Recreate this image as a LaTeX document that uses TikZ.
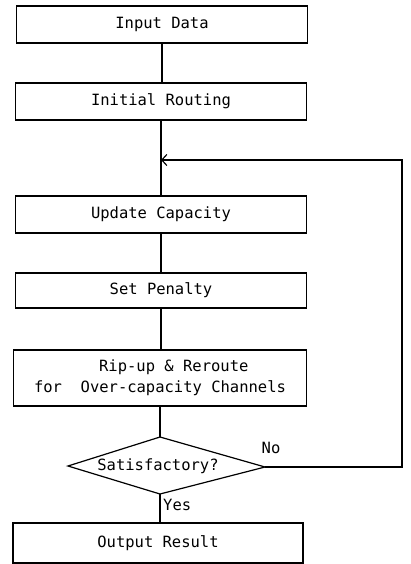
\documentclass[tikz,border=0pt]{standalone}
\usepackage{fontspec}
\newfontfamily\diafont{DejaVu Sans Mono}
\usetikzlibrary{arrows.meta}
\begin{document}
\begin{tikzpicture}[x=1pt,y=-1pt,
  every node/.style={font=\diafont\fontsize{15.5}{21}\selectfont},
  procbox/.style={draw,line width=1.2pt,minimum width=291pt,inner sep=0pt},
  conn/.style={line width=1.2pt},
  lbl/.style={inner sep=0pt}]
\useasboundingbox (0,0) rectangle (410,564);
\node[procbox,minimum height=37pt] (input) at (162,24.5) {Input Data};
\node[procbox,minimum height=37pt] (init) at (161,101.5) {Initial Routing};
\node[procbox,minimum height=37pt] (update) at (161,214.5) {Update Capacity};
\node[procbox,minimum height=35pt] (pen) at (161,290.5) {Set Penalty};
\node[procbox,minimum height=56pt,minimum width=293pt,align=left] (rip) at (160,378) {\hspace*{4.2em}Rip-up \& Reroute\\for\ \ Over-capacity Channels};
% decision diamond
\coordinate (dtop) at (160,437);
\coordinate (dright) at (265,467);
\coordinate (dbot) at (160,494);
\coordinate (dleft) at (68,466);
\draw[conn,line join=miter] (dtop) -- (dright) -- (dbot) -- (dleft) -- cycle;
\node[lbl] (dec) at (158,466) {Satisfactory?};
\node[procbox,minimum height=40pt,minimum width=290pt] (out) at (158,543) {Output Result};
\node[lbl] (no) at (271,448) {No};
\node[lbl,anchor=west] (yes) at (163,505) {Yes};
\coordinate (merge) at (161,160);
\coordinate (rc) at (402,160);
\draw[conn] (input.south) -- (input.south |- init.north);
\draw[conn] (init.south) -- (init.south |- update.north);
\draw[conn] (update.south) -- (update.south |- pen.north);
\draw[conn] (pen.south) -- (pen.south |- rip.north);
\draw[conn] (rip.south) -- (dtop);
\draw[conn] (dbot) -- (dbot |- out.north);
\draw[conn,-{Straight Barb[length=5pt,width=11pt,line width=1.2pt]}] (dright) -| (rc) -- (merge);
\end{tikzpicture}
\end{document}
